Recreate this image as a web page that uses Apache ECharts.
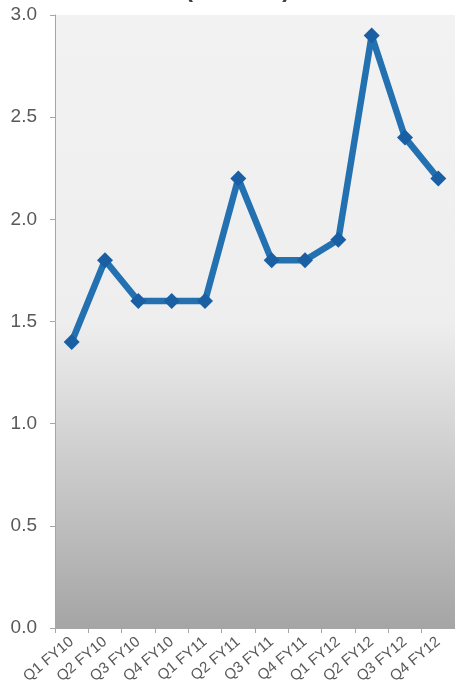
<!DOCTYPE html>
<html>
<head>
<meta charset="utf-8">
<script src="https://cdn.jsdelivr.net/npm/echarts@6/dist/echarts.min.js"></script>
<style>
html,body{margin:0;padding:0;background:#fff;}
#chart{width:455px;height:698px;}
</style>
</head>
<body>
<div id="chart"></div>
<script>
// Quarterly values, FY10 through FY12
const quarters = ['Q1 FY10','Q2 FY10','Q3 FY10','Q4 FY10','Q1 FY11','Q2 FY11','Q3 FY11','Q4 FY11','Q1 FY12','Q2 FY12','Q3 FY12','Q4 FY12'];
const values = [1.4, 1.8, 1.6, 1.6, 1.6, 2.2, 1.8, 1.8, 1.9, 2.9, 2.4, 2.2];
const yTicks = { min: 0, max: 3, interval: 0.5 };
const titleText = '(Millions)';

const chart = echarts.init(document.getElementById('chart'), null, { renderer: 'canvas' });
chart.setOption({
  animation: false,
  title: {
    text: titleText,
    left: 180,
    top: -27,
    textStyle: { fontFamily: 'Liberation Sans', fontWeight: 'bold', fontSize: 24, color: '#404040' }
  },
  grid: { left: 55, right: 0, top: 15, bottom: 70, containLabel: false,
    show: true, borderWidth: 0,
    backgroundColor: {
      type: 'linear', x: 0, y: 0, x2: 0, y2: 1,
      colorStops: [
        { offset: 0, color: '#f2f2f2' },
        { offset: 0.5, color: '#eeeeee' },
        { offset: 1, color: '#a5a5a5' }
      ]
    }
  },
  xAxis: {
    type: 'category',
    data: quarters,
    boundaryGap: true,
    axisLine: { lineStyle: { color: '#a6a6a6', width: 1 } },
    axisTick: { show: true, length: 5, lineStyle: { color: '#a6a6a6' } },
    axisLabel: {
      interval: 0, rotate: 40, margin: 12,
      fontFamily: 'Liberation Sans', fontSize: 15, color: '#595959'
    }
  },
  yAxis: {
    type: 'value',
    min: yTicks.min, max: yTicks.max, interval: yTicks.interval,
    axisLine: { show: true, lineStyle: { color: '#a6a6a6', width: 1 } },
    axisTick: { show: true, length: 5, lineStyle: { color: '#a6a6a6' } },
    splitLine: { show: false },
    axisLabel: {
      margin: 18,
      fontFamily: 'Liberation Sans', fontSize: 19, color: '#595959',
      formatter: v => v.toFixed(1)
    }
  },
  series: [{
    type: 'line',
    data: values,
    symbol: 'diamond',
    symbolSize: 16,
    lineStyle: { color: '#2371b0', width: 6.5 },
    itemStyle: { color: '#1a5fa3' },
    z: 3
  }]
});
</script>
</body>
</html>
